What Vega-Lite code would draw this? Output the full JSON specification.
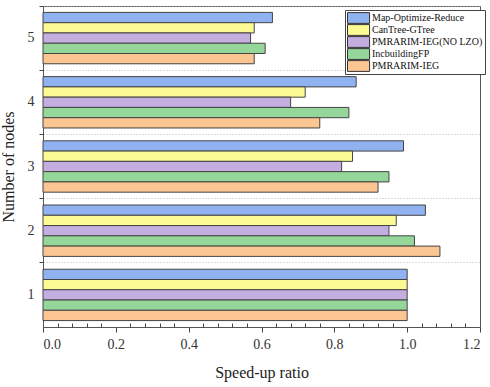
{
  "$schema": "https://vega.github.io/schema/vega-lite/v6.json",
  "width": 437,
  "height": 321,
  "autosize": {"type": "none"},
  "padding": {"left": 43, "top": 6, "right": 10, "bottom": 60},
  "background": "white",
  "config": {
    "font": "Liberation Serif",
    "axis": {"labelFont": "Liberation Serif", "titleFont": "Liberation Serif"},
    "legend": {"labelFont": "Liberation Serif"},
    "view": {"stroke": "#555", "strokeWidth": 1}
  },
  "data": {
    "values": [
      {"nodes": "5", "series": "Map-Optimize-Reduce", "value": 0.63},
      {"nodes": "5", "series": "CanTree-GTree", "value": 0.58},
      {"nodes": "5", "series": "PMRARIM-IEG(NO LZO)", "value": 0.57},
      {"nodes": "5", "series": "IncbuildingFP", "value": 0.61},
      {"nodes": "5", "series": "PMRARIM-IEG", "value": 0.58},
      {"nodes": "4", "series": "Map-Optimize-Reduce", "value": 0.86},
      {"nodes": "4", "series": "CanTree-GTree", "value": 0.72},
      {"nodes": "4", "series": "PMRARIM-IEG(NO LZO)", "value": 0.68},
      {"nodes": "4", "series": "IncbuildingFP", "value": 0.84},
      {"nodes": "4", "series": "PMRARIM-IEG", "value": 0.76},
      {"nodes": "3", "series": "Map-Optimize-Reduce", "value": 0.99},
      {"nodes": "3", "series": "CanTree-GTree", "value": 0.85},
      {"nodes": "3", "series": "PMRARIM-IEG(NO LZO)", "value": 0.82},
      {"nodes": "3", "series": "IncbuildingFP", "value": 0.95},
      {"nodes": "3", "series": "PMRARIM-IEG", "value": 0.92},
      {"nodes": "2", "series": "Map-Optimize-Reduce", "value": 1.05},
      {"nodes": "2", "series": "CanTree-GTree", "value": 0.97},
      {"nodes": "2", "series": "PMRARIM-IEG(NO LZO)", "value": 0.95},
      {"nodes": "2", "series": "IncbuildingFP", "value": 1.02},
      {"nodes": "2", "series": "PMRARIM-IEG", "value": 1.09},
      {"nodes": "1", "series": "Map-Optimize-Reduce", "value": 1.0},
      {"nodes": "1", "series": "CanTree-GTree", "value": 1.0},
      {"nodes": "1", "series": "PMRARIM-IEG(NO LZO)", "value": 1.0},
      {"nodes": "1", "series": "IncbuildingFP", "value": 1.0},
      {"nodes": "1", "series": "PMRARIM-IEG", "value": 1.0}
    ]
  },
  "layer": [
    {
      "mark": {"type": "bar", "stroke": "#444", "strokeWidth": 1},
      "encoding": {
        "y": {
          "field": "nodes",
          "type": "ordinal",
          "sort": "descending",
          "scale": {"paddingInner": 0, "paddingOuter": 0},
          "axis": {
            "title": "Number of nodes",
            "titleFontSize": 16,
            "titleFontWeight": "normal",
            "titleColor": "#222",
            "titlePadding": 11,
            "labelFontSize": 14,
            "labelColor": "#333",
            "labelAngle": 0,
            "labelPadding": 9,
            "ticks": false,
            "tickSize": 0,
            "grid": false,
            "domainColor": "#555"
          }
        },
        "yOffset": {
          "field": "series",
          "type": "nominal",
          "sort": ["Map-Optimize-Reduce", "CanTree-GTree", "PMRARIM-IEG(NO LZO)", "IncbuildingFP", "PMRARIM-IEG"],
          "scale": {"paddingInner": 0, "paddingOuter": 0.625}
        },
        "x": {
          "field": "value",
          "type": "quantitative",
          "scale": {"domain": [0, 1.2], "nice": false},
          "axis": {
            "title": "Speed-up ratio",
            "titleFontSize": 16,
            "titleFontWeight": "normal",
            "titleColor": "#222",
            "titlePadding": 13,
            "values": [0, 0.2, 0.4, 0.6, 0.8, 1.0, 1.2],
            "format": ".1f",
            "labelFontSize": 14,
            "labelColor": "#333",
            "labelPadding": 5,
            "tickSize": 5,
            "tickColor": "#444",
            "grid": false,
            "domainColor": "#555"
          }
        },
        "color": {
          "field": "series",
          "type": "nominal",
          "scale": {
            "domain": ["Map-Optimize-Reduce", "CanTree-GTree", "PMRARIM-IEG(NO LZO)", "IncbuildingFP", "PMRARIM-IEG"],
            "range": ["#91b2f0", "#fcfa94", "#c4aee0", "#95d69a", "#fcc692"]
          },
          "legend": {
            "title": null,
            "orient": "none",
            "legendX": 302,
            "legendY": 4,
            "strokeColor": "#444",
            "fillColor": "white",
            "padding": 2,
            "symbolType": "M-1,-1.2H3.9V1.2H-1Z",
            "symbolSize": 81,
            "symbolStrokeColor": "#333",
            "symbolStrokeWidth": 1,
            "symbolOpacity": 1,
            "labelFont": "Liberation Serif",
            "labelFontSize": 10,
            "labelColor": "#111",
            "labelOffset": 15,
            "labelLimit": 200,
            "clipHeight": 12,
            "rowPadding": 0
          }
        }
      }
    },
    {
      "mark": {"type": "bar", "opacity": 0},
      "encoding": {
        "y": {
          "field": "nodes",
          "type": "ordinal",
          "sort": "descending",
          "scale": {"paddingInner": 0, "paddingOuter": 0},
          "axis": {
            "orient": "left",
            "title": null,
            "labels": false,
            "bandPosition": 0,
            "ticks": true,
            "tickSize": 4,
            "tickColor": "#444",
            "grid": true,
            "gridColor": "#bbb",
            "gridDash": [1, 2],
            "gridWidth": 1,
            "domain": false
          }
        },
        "x": {
          "field": "value",
          "type": "quantitative",
          "scale": {"domain": [0, 1.2], "nice": false},
          "axis": {
            "orient": "bottom",
            "title": null,
            "labels": false,
            "values": [0.04, 0.08, 0.12, 0.16, 0.24, 0.28, 0.32, 0.36, 0.44, 0.48, 0.52, 0.56, 0.64, 0.68, 0.72, 0.76, 0.84, 0.88, 0.92, 0.96, 1.04, 1.08, 1.12, 1.16],
            "tickSize": -4,
            "tickColor": "#444",
            "grid": false,
            "domain": false
          }
        }
      }
    }
  ],
  "resolve": {"axis": {"x": "independent", "y": "independent"}}
}
